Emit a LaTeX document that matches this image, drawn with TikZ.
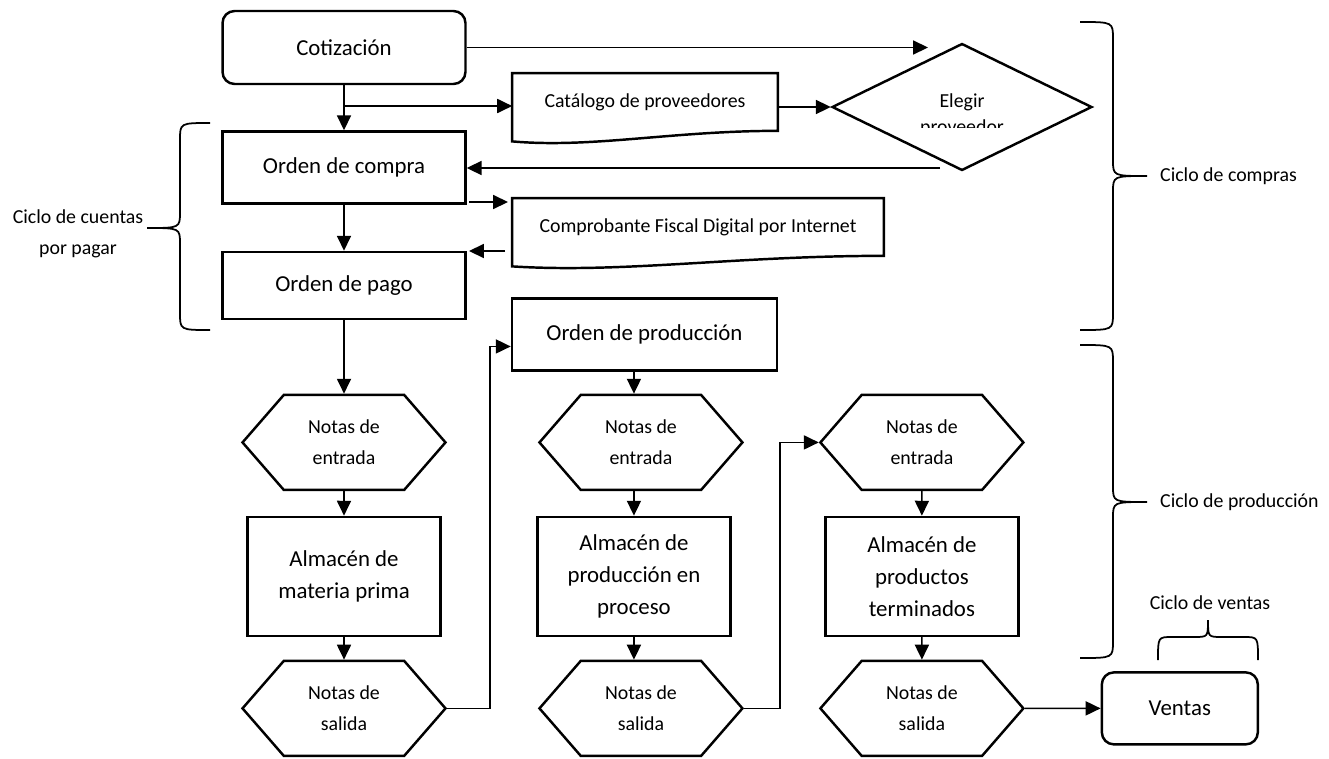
\documentclass[tikz,border=0pt]{standalone}
\usepackage{fontspec}
\setmainfont{Carlito}
\usetikzlibrary{positioning,calc}
\usetikzlibrary{shapes.geometric,shapes.symbols}
\usetikzlibrary{arrows.meta}

\newcommand{\bigtxt}{\fontsize{13}{18.3}\selectfont}
\newcommand{\smalltxt}{\fontsize{11.3}{17.6}\selectfont}
% contorno de documento con base ondulada
\newcommand{\docshape}[1]{%
  \draw[line width=1.4pt] (#1.north west) -- (#1.north east) -- (#1.south east)
    .. controls ($(#1.south east)!0.4!(#1.south west)$) and ($(#1.south east)!0.7!(#1.south west)+(0,-10pt)$)
    .. ($(#1.south west)+(0,-6pt)$) -- cycle;}

\begin{document}
\begin{tikzpicture}[x=0.02cm,y=-0.02cm,node distance=3cm,on grid,
  >={Triangle[length=8.5pt,width=8pt]},
  box/.style={draw,line width=1.4pt,minimum width=4.86cm,font=\bigtxt,align=center},
  rbox/.style={box,rounded corners=0.24cm},
  hexa/.style={draw,line width=1.4pt,signal,signal to=west and east,signal pointer angle=98,
    minimum width=4.06cm,minimum height=1.9cm,font=\smalltxt,align=center},
  almacen/.style={box,minimum width=3.86cm,minimum height=2.38cm},
  doc/.style={minimum height=1.14cm,font=\smalltxt},
  conn/.style={->,line width=0.9pt},
  llave/.style={line width=1pt},
  etiqueta/.style={font=\smalltxt,align=center}]
\useasboundingbox (0,0) rectangle (1329,758);

% columna de compras
\node[rbox,minimum height=1.46cm] (cot) at (344,47.5) {Cotización};
\node[box,minimum height=1.44cm] (oc) [below=2.4cm of cot] {Orden de compra};
\node[box,minimum height=1.34cm] (op) [below=2.36cm of oc] {Orden de pago};
\node[hexa] (ne1) [below=3.14cm of op] {Notas de\\entrada};
\node[almacen] (am1) [below=2.68cm of ne1] {Almacén de\\materia prima};
\node[hexa] (ns1) [below=2.64cm of am1] {Notas de\\salida};

% produccion
\node[hexa] (ne2) [right=5.94cm of ne1] {Notas de\\entrada};
\node[almacen] (am2) [below=2.68cm of ne2,xshift=-0.14cm] {Almacén de\\producción en\\proceso};
\node[hexa] (ns2) [right=5.94cm of ns1] {Notas de\\salida};
\node[box,minimum width=5.3cm,minimum height=1.44cm] (opd) [above=2.16cm of ne2,xshift=0.07cm] {Orden de producción};

\node[hexa] (ne3) [right=5.62cm of ne2] {Notas de\\entrada};
\node[almacen] (am3) [below=2.68cm of ne3] {Almacén de\\productos\\terminados};
\node[hexa] (ns3) [right=5.62cm of ns2] {Notas de\\salida};
\node[rbox,minimum width=3.12cm,minimum height=1.44cm] (ventas) [right=5.16cm of ns3] {Ventas};

% documentos y decision
\node[doc,minimum width=5.3cm] (cat) at (645,102) {Catálogo de proveedores};
\docshape{cat}
\node[doc,minimum width=7.42cm] (cfdi) at (698,227) {Comprobante Fiscal Digital por Internet};
\docshape{cfdi}
\node[draw,diamond,line width=1.4pt,minimum width=5.2cm,minimum height=2.54cm] (eleg) at (962,107) {};
\begin{scope}
  \clip (880,60) rectangle (1044,127);
  \node[font=\fontsize{11.3}{14.5}\selectfont,align=center] (elegtxt) at (962,115) {Elegir\\proveedor};
\end{scope}

\coordinate (cotfin) at (928,47.5);
\coordinate (br) at (344,106);
\coordinate (elegout) at (940,168);
\coordinate (cfa) at (469,202);
\coordinate (cfb) at (508,202);
\coordinate (cfc) at (505,251);
\coordinate (cfd) at (469,251);

\draw[conn] (cot) -- (oc);
\draw[conn] (cot.east) -- (cotfin);
\draw[conn] (br) -- (br -| cat.west);
\draw[conn] (cat.east |- eleg.west) -- (eleg.west);
\draw[conn] (elegout) -- (elegout -| oc.east);
\draw[conn] (cfa) -- (cfb);
\draw[conn] (cfc) -- (cfd);
\draw[conn] (oc) -- (op);
\draw[conn] (op) -- (ne1);
\draw[conn] (ne1) -- (am1);
\draw[conn] (am1) -- (ns1);
\draw[conn] (ns1.east) -- ++(43,0) |- ([yshift=-0.24cm]opd.west);
\draw[conn] (opd.south -| am2) -- (ne2.north -| am2);
\draw[conn] (ne2.south -| am2) -- (am2);
\draw[conn] (am2) -- (ns2.north -| am2);
\draw[conn] (ns2.east) -- ++(36,0) |- (ne3.west);
\draw[conn] (ne3) -- (am3);
\draw[conn] (am3) -- (ns3);
\draw[conn] (ns3) -- (ventas);

% ciclos
\draw[llave] (210,123) .. controls (180,123) .. (180,140) -- (180,212)
  .. controls (180,228) .. (147,228) .. controls (180,228) .. (180,244)
  -- (180,313) .. controls (180,330) .. (210,330);
\node[etiqueta] (cuentas) at (78,234) {Ciclo de cuentas\\por pagar};
\draw[llave] (1080,22) .. controls (1113,22) .. (1113,39) -- (1113,160)
  .. controls (1113,176) .. (1147,176) .. controls (1113,176) .. (1113,192)
  -- (1113,313) .. controls (1113,330) .. (1080,330);
\node[etiqueta,anchor=west] (compras) at (1154,176) {Ciclo de compras};
\draw[llave] (1080,345) .. controls (1113,345) .. (1113,362) -- (1113,486)
  .. controls (1113,502) .. (1147,502) .. controls (1113,502) .. (1113,518)
  -- (1113,641) .. controls (1113,658) .. (1080,658);
\node[etiqueta,anchor=west] (produccion) at (1154,502) {Ciclo de producción};
\draw[llave] (1158,660) .. controls (1158,637) .. (1172,637) -- (1194,637)
  .. controls (1208,637) .. (1208,620) .. controls (1208,637) .. (1222,637)
  -- (1244,637) .. controls (1258,637) .. (1258,660);
\node[etiqueta] (ventasl) at (1210,603) {Ciclo de ventas};
\end{tikzpicture}
\end{document}
